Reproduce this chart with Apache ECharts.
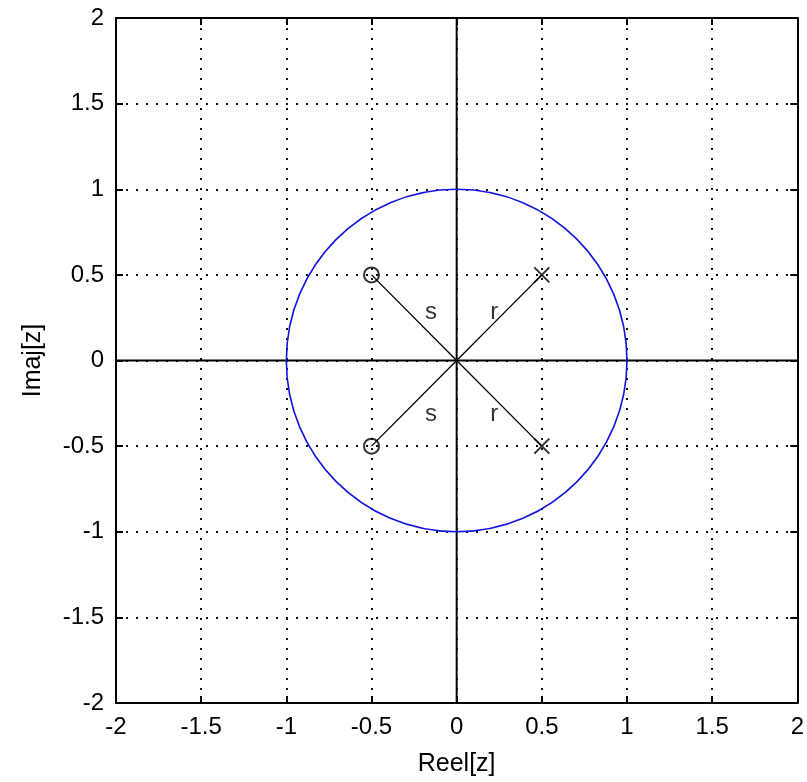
<!DOCTYPE html>
<html><head><meta charset="utf-8">
<script src="https://cdn.jsdelivr.net/npm/echarts@6/dist/echarts.min.js"></script>
<style>html,body{margin:0;padding:0;background:#fff}#c{width:807px;height:782px}</style>
</head><body><div id="c"></div>
<script>
var poles = [[0.5, 0.5], [0.5, -0.5]];
var zeros = [[-0.5, 0.5], [-0.5, -0.5]];
var unitCircle = [[0, 0, 1]];
var textLabels = [[-0.15, 0.28, 's'], [0.22, 0.28, 'r'], [-0.15, -0.315, 's'], [0.22, -0.315, 'r']];
var xTicks = [-2, -1.5, -1, -0.5, 0, 0.5, 1, 1.5, 2];
var yTicks = [-2, -1.5, -1, -0.5, 0, 0.5, 1, 1.5, 2];
var xName = 'Reel[z]';
var yName = 'Imaj[z]';

var FONT = 'Liberation Sans';
var chart = echarts.init(document.getElementById('c'), null, {renderer: 'canvas'});

function spokes(points) {
  var out = [];
  points.forEach(function (p) { out.push([0, 0]); out.push(p); out.push('-'); });
  return out;
}
function axisCommon(showLabel) {
  return {
    type: 'value', min: xTicks[0], max: xTicks[xTicks.length - 1], interval: 0.5,
    axisLine: {show: true, onZero: false, lineStyle: {color: '#000', width: 2}},
    axisTick: {show: true, inside: true, length: 7, lineStyle: {color: '#000', width: 2}},
    axisLabel: {show: showLabel, color: '#000', fontFamily: FONT, fontSize: 24, margin: 12,
      formatter: function (v) { return String(Math.round(v * 10) / 10); }},
    splitLine: {show: false}
  };
}
var xb = axisCommon(true);
xb.position = 'bottom';
xb.name = xName; xb.nameLocation = 'middle'; xb.nameGap = 49;
xb.nameTextStyle = {color: '#000', fontFamily: FONT, fontSize: 25};
xb.splitLine = {show: true, lineStyle: {color: '#111', width: 2, type: [2, 8]}};
var xt = axisCommon(false); xt.position = 'top';
var yl = axisCommon(true);
yl.position = 'left';
yl.name = yName; yl.nameLocation = 'middle'; yl.nameGap = 70;
yl.nameTextStyle = {color: '#000', fontFamily: FONT, fontSize: 25};
yl.splitLine = {show: true, lineStyle: {color: '#111', width: 2, type: [2, 8]}};
var yr = axisCommon(false); yr.position = 'right';

var option = {
  animation: false,
  backgroundColor: '#fff',
  grid: {left: 116, top: 18, width: 685, height: 686, containLabel: false},
  xAxis: [xb, xt],
  yAxis: [yl, yr],
  series: [
    {
      type: 'line', data: [[xTicks[0], 0], [xTicks[xTicks.length - 1], 0]],
      symbol: 'none', lineStyle: {color: '#000', width: 2}, silent: true, z: 3
    },
    {
      type: 'line', data: [[0, yTicks[0]], [0, yTicks[yTicks.length - 1]]],
      symbol: 'none', lineStyle: {color: '#000', width: 2}, silent: true, z: 3
    },
    {
      type: 'custom', data: unitCircle, z: 4,
      renderItem: function (params, api) {
        var c = api.coord([api.value(0), api.value(1)]);
        var s = api.size([api.value(2), api.value(2)]);
        return {type: 'ellipse', shape: {cx: c[0], cy: c[1], rx: s[0], ry: s[1]},
          style: {fill: 'none', stroke: '#1414e0', lineWidth: 1.6}};
      }
    },
    {
      type: 'line', data: spokes(zeros), connectNulls: false, symbol: 'none',
      lineStyle: {color: '#000', width: 1.3}, z: 5
    },
    {
      type: 'line', data: spokes(poles), connectNulls: false, symbol: 'none',
      lineStyle: {color: '#000', width: 1.3}, z: 5
    },
    {
      type: 'scatter', data: zeros, symbol: 'circle', symbolSize: 15, z: 6,
      itemStyle: {color: 'rgba(0,0,0,0)', borderColor: '#000', borderWidth: 2}
    },
    {
      type: 'scatter', data: poles, symbol: 'path://M0,0L10,10M10,0L0,10', symbolSize: 15, z: 6,
      itemStyle: {color: 'rgba(0,0,0,0)', borderColor: '#000', borderWidth: 2}
    },
    {
      type: 'scatter', data: textLabels, symbolSize: 0, z: 7,
      label: {show: true, position: 'inside', color: '#000', fontFamily: FONT, fontSize: 24,
        formatter: function (p) { return p.value[2]; }}
    }
  ]
};
chart.setOption(option);
</script></body></html>
